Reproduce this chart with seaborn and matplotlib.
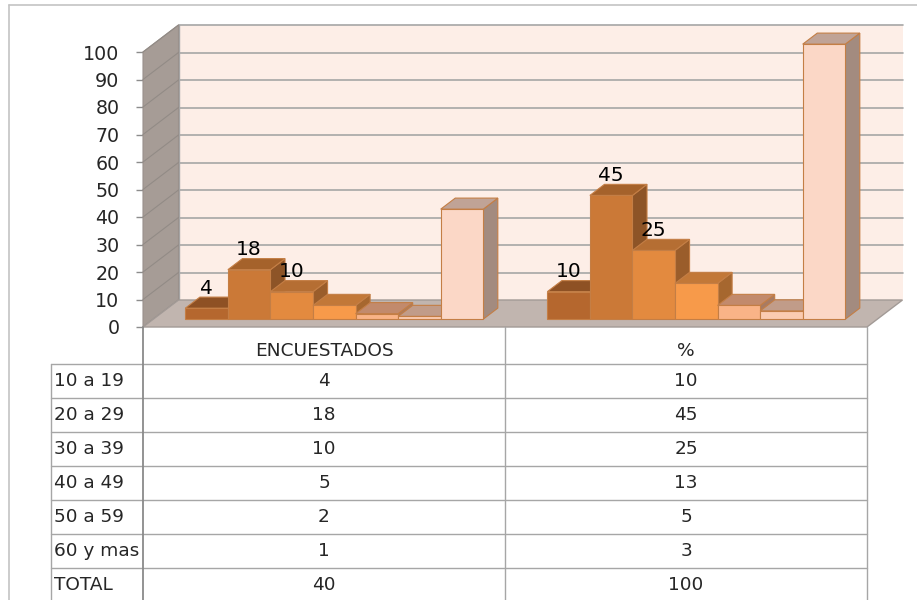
import numpy as np
import pandas as pd
import matplotlib
matplotlib.use("Agg")
import matplotlib.pyplot as plt
from matplotlib.patches import Polygon
from matplotlib.lines import Line2D
from matplotlib.transforms import IdentityTransform, ScaledTranslation
import seaborn as sns

# ---- data ----
categorias = ["ENCUESTADOS", "%"]
grupos = ["10 a 19", "20 a 29", "30 a 39", "40 a 49", "50 a 59", "60 y mas", "TOTAL"]
encuestados = [4, 18, 10, 5, 2, 1, 40]
porcentaje = [10, 45, 25, 13, 5, 3, 100]
grupos_etiquetados = ["10 a 19", "20 a 29", "30 a 39"]
y_ticks = list(range(0, 101, 10))

# ---- styling ----
color_frente = ["#B5672E", "#CB7937", "#E38A3F", "#F79A4A", "#F9B387", "#FBCBB0", "#FBD7C6"]
color_techo = ["#8E5124", "#A5622B", "#B56E33", "#C27838", "#C28A6C", "#C19C89", "#C0A396"]
color_lado = ["#7E4820", "#8D5427", "#9A5D2B", "#A6672F", "#A87B63", "#A88D80", "#A38B7F"]
borde = "#C47E45"
gris = "#A6A6A6"
FONT = 13.3
FONT_ETIQ = 14.5

sns.set_style("white")
plt.rcParams["font.family"] = ["DejaVu Sans"]

W, H = 917, 600
fig = plt.figure(figsize=(W / 100, H / 100), dpi=100)
fig.patch.set_facecolor("white")

# front plane of the 3-D box, in pixels from the top-left corner
FL, FR, F0, F100 = 143, 867, 327, 52
ax = fig.add_axes([FL / W, 1 - F0 / H, (FR - FL) / W, (F0 - F100) / H])

df = pd.DataFrame({
    "categoria": np.repeat(categorias, len(grupos)),
    "grupo": grupos * len(categorias),
    "valor": encuestados + porcentaje,
})

sns.barplot(data=df, x="categoria", y="valor", hue="grupo", order=categorias,
            hue_order=grupos, palette=color_frente, saturation=1, width=0.823,
            errorbar=None, edgecolor=borde, linewidth=0.8, legend=False, ax=ax)

ax.set_xlim(-0.5, len(categorias) - 0.5)
ax.set_ylim(0, 100)
ax.set_yticks(y_ticks)
ax.set_yticklabels([str(t) for t in y_ticks])
ax.set_xticks([])
ax.set_xlabel("")
ax.set_ylabel("")
ax.tick_params(axis="y", length=5, width=1, color="#8C8C8C", pad=12,
               labelsize=FONT + 0.4, left=True)
for s in ax.spines.values():
    s.set_visible(False)
ax.patch.set_visible(False)

# depth of the box (display pixels, y upward) and depth span of the columns
DX, DY = 35.5, 27.0
f0, f1 = 0.29, 0.70
IDT = IdentityTransform()


def disp(x, y):
    return np.array(ax.transData.transform((x, y)))


def poly(points, fc, ec="none", lw=0.0, z=1.0):
    p = Polygon(points, closed=True, facecolor=fc, edgecolor=ec, linewidth=lw,
                transform=IDT, clip_on=False, zorder=z)
    ax.add_patch(p)
    return p


def line(p, q, color=gris, lw=1.0, z=2.0):
    ax.add_line(Line2D([p[0], q[0]], [p[1], q[1]], color=color, linewidth=lw,
                       transform=IDT, clip_on=False, zorder=z))


D = np.array([DX, DY])
x_lo, x_hi = -0.5, len(categorias) - 0.5

# back wall
bw = [disp(x_lo, 0) + D, disp(x_hi, 0) + D, disp(x_hi, 100) + D, disp(x_lo, 100) + D]
poly(bw, "#FDEEE7", z=0.5)
for v in y_ticks[1:]:
    line(disp(x_lo, v) + D, disp(x_hi, v) + D, color=gris, lw=1.2, z=0.8)
line(disp(x_lo, 0) + D, disp(x_lo, 100) + D, color=gris, lw=1.0, z=0.8)

# side wall
sw = [disp(x_lo, 0), disp(x_lo, 100), disp(x_lo, 100) + D, disp(x_lo, 0) + D]
poly(sw, "#A69C96", ec="#9A918C", lw=0.8, z=0.9)
for v in y_ticks:
    line(disp(x_lo, v), disp(x_lo, v) + D, color="#928B86", lw=0.8, z=0.95)

# floor
fl = [disp(x_lo, 0), disp(x_hi, 0), disp(x_hi, 0) + D, disp(x_lo, 0) + D]
poly(fl, "#C1B5AF", ec="#A29A96", lw=1.0, z=1.0)

# columns: shift the front faces into depth, then add top and side faces
o0, o1 = f0 * D, f1 * D
shift = ScaledTranslation(o0[0] / 100, o0[1] / 100, fig.dpi_scale_trans)
for i, cont in enumerate(ax.containers):
    z = 10 + i * 0.1
    for bar in cont:
        x0, w, h = bar.get_x(), bar.get_width(), bar.get_height()
        bar.set_transform(ax.transData + shift)
        bar.set_clip_on(False)
        bar.set_zorder(z + 0.02)
        B, C, Dd = disp(x0 + w, 0), disp(x0 + w, h), disp(x0, h)
        poly([B + o0, C + o0, C + o1, B + o1], color_lado[i], ec=borde, lw=0.8, z=z)
        poly([Dd + o0, C + o0, C + o1, Dd + o1], color_techo[i], ec=borde, lw=0.8, z=z + 0.01)
        if grupos[i] in grupos_etiquetados:
            ax.annotate(f"{h:g}", xy=(x0 + w / 2, h), xycoords="data",
                        xytext=(o0[0] * 0.72, (o1[1] + 9) * 0.72),
                        textcoords="offset points", ha="center", va="center",
                        fontsize=FONT_ETIQ, color="black", zorder=20,
                        annotation_clip=False)

# ---- data table under the chart ----
def px(x, y):
    return (x, H - y)


col_x = [disp(c, 0)[0] for c in [x_lo, 0.5, x_hi]]
tbl_left = 51
head_top, head_bot, row_h = F0, 363.5, 34.0
bottom = H + 2

for k in range(len(grupos) + 1):
    yy = head_bot + k * row_h
    line(px(tbl_left, yy), px(col_x[-1], yy), color=gris, lw=1.0, z=3)
line(px(tbl_left, head_bot), px(tbl_left, bottom), color=gris, lw=1.0, z=3)
line(px(col_x[0], head_top), px(col_x[0], bottom), color="#8A8A8A", lw=1.3, z=3)
for cx in col_x[1:]:
    line(px(cx, head_top), px(cx, bottom), color=gris, lw=1.0, z=3)

centers = [(col_x[j] + col_x[j + 1]) / 2 for j in range(len(categorias))]
for j, cat in enumerate(categorias):
    ax.text(*px(centers[j], 351), cat, transform=IDT, ha="center", va="center",
            fontsize=FONT, clip_on=False)

valores = [encuestados, porcentaje]
for k, g in enumerate(grupos):
    yc = head_bot + (k + 0.5) * row_h
    ax.text(*px(tbl_left + 3, yc), g, transform=IDT, ha="left", va="center",
            fontsize=FONT, clip_on=False)
    for j in range(len(categorias)):
        ax.text(*px(centers[j], yc), f"{valores[j][k]:g}", transform=IDT,
                ha="center", va="center", fontsize=FONT, clip_on=False)

# chart frame
fig.add_artist(Line2D([9 / W, 1.0], [1 - 5 / H, 1 - 5 / H], color="#C4C4C4",
                      linewidth=1.2, transform=fig.transFigure))
fig.add_artist(Line2D([9 / W, 9 / W], [0, 1 - 5 / H], color="#C4C4C4",
                      linewidth=1.2, transform=fig.transFigure))

fig.savefig("out.png", dpi=100)
